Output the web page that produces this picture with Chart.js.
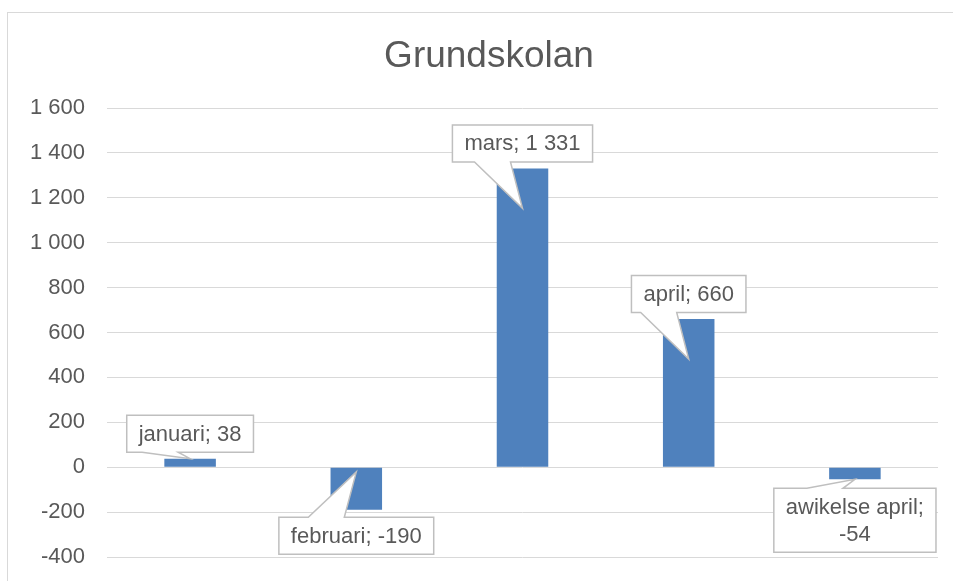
<!DOCTYPE html>
<html>
<head>
<meta charset="utf-8">
<script src="https://cdn.jsdelivr.net/npm/chart.js@4.4.1/dist/chart.umd.min.js"></script>
<style>
  html, body { margin: 0; padding: 0; background: #fff; overflow: hidden; }
  #wrap { position: relative; width: 953px; height: 581px; overflow: hidden; }
  #frame { position: absolute; left: 7px; top: 12px; width: 1000px; height: 700px; border: 1px solid #d9d9d9; box-sizing: border-box; }
  canvas { position: absolute; left: 0; top: 0; }
</style>
</head>
<body>
<div id="wrap">
  <div id="frame"></div>
  <canvas id="chart" width="953" height="581"></canvas>
</div>
<script>
const categories = ['januari', 'februari', 'mars', 'april', 'awikelse april'];
const values = [38, -190, 1331, 660, -54];
const yMin = -400;
const yMax = 1600;
const yStep = 200;
const chartTitle = 'Grundskolan';

// callout placement relative to the end of each bar (style only)
const calloutLayout = [
  { dy: -25, tipDy: 0, wrap: false },
  { dy: 26, tipDy: -38, wrap: false },
  { dy: -25, tipDy: 40, wrap: false },
  { dy: -25, tipDy: 40, wrap: false },
  { dy: 41, tipDy: 0, wrap: true }
];

const textColor = '#595959';
const barColor = '#4f81bd';
const fontFamily = '"Liberation Sans", Arial, sans-serif';

function fmt(v) {
  const s = String(Math.abs(v)).replace(/\B(?=(\d{3})+(?!\d))/g, ' ');
  return (v < 0 ? '-' : '') + s;
}

// title drawn by hand so it can sit centred on the frame, not the canvas
const titlePlugin = {
  id: 'frameTitle',
  afterDraw(chart) {
    const ctx = chart.ctx;
    ctx.save();
    ctx.font = '37px ' + fontFamily;
    ctx.fillStyle = textColor;
    ctx.textAlign = 'center';
    ctx.textBaseline = 'alphabetic';
    ctx.fillText(chartTitle, 489, 67);
    ctx.restore();
  }
};

const calloutPlugin = {
  id: 'callouts',
  afterDatasetsDraw(chart) {
    const ctx = chart.ctx;
    const meta = chart.getDatasetMeta(0);
    ctx.save();
    ctx.font = '22px ' + fontFamily;
    meta.data.forEach((bar, i) => {
      const lay = calloutLayout[i];
      const lines = lay.wrap
        ? [categories[i] + ';', fmt(values[i])]
        : [categories[i] + '; ' + fmt(values[i])];
      const tw = Math.max(...lines.map(l => ctx.measureText(l).width));
      const w = tw + 24;
      const h = lines.length === 1 ? 37 : 64;
      const cx = bar.x;
      const cy = bar.y + lay.dy;
      const left = cx - w / 2, right = cx + w / 2;
      const top = cy - h / 2, bottom = cy + h / 2;
      const tipX = bar.x;
      const tipY = bar.y + lay.tipDy;
      const b1 = cx - 48, b2 = cx - 12;

      ctx.beginPath();
      if (tipY > cy) {
        ctx.moveTo(left, top);
        ctx.lineTo(right, top);
        ctx.lineTo(right, bottom);
        ctx.lineTo(b2, bottom);
        ctx.lineTo(tipX, tipY);
        ctx.lineTo(b1, bottom);
        ctx.lineTo(left, bottom);
      } else {
        ctx.moveTo(left, top);
        ctx.lineTo(b1, top);
        ctx.lineTo(tipX, tipY);
        ctx.lineTo(b2, top);
        ctx.lineTo(right, top);
        ctx.lineTo(right, bottom);
        ctx.lineTo(left, bottom);
      }
      ctx.closePath();
      ctx.fillStyle = '#ffffff';
      ctx.fill();
      ctx.strokeStyle = '#bfbfbf';
      ctx.lineWidth = 1.5;
      ctx.stroke();

      ctx.fillStyle = textColor;
      ctx.textAlign = 'center';
      ctx.textBaseline = 'middle';
      const lh = 27;
      lines.forEach((l, k) => {
        ctx.fillText(l, cx, cy + (k - (lines.length - 1) / 2) * lh + 1);
      });
    });
    ctx.restore();
  }
};

new Chart(document.getElementById('chart'), {
  type: 'bar',
  data: {
    labels: categories,
    datasets: [{
      data: values,
      backgroundColor: barColor,
      borderWidth: 0,
      barPercentage: 0.31,
      categoryPercentage: 1
    }]
  },
  options: {
    responsive: false,
    animation: false,
    layout: { padding: { left: 0, right: 15, top: 108, bottom: 24 } },
    plugins: {
      legend: { display: false },
      tooltip: { enabled: false },
      title: { display: false }
    },
    scales: {
      x: { display: false },
      y: {
        min: yMin,
        max: yMax,
        afterFit(scale) {
          scale.width = 107;
          scale.paddingTop = 0;
          scale.paddingBottom = 0;
        },
        border: { display: false },
        grid: { color: '#d9d9d9', lineWidth: 1, drawTicks: false },
        ticks: {
          stepSize: yStep,
          padding: 22,
          color: textColor,
          font: { family: fontFamily, size: 22 },
          callback: v => fmt(v)
        }
      }
    }
  },
  plugins: [calloutPlugin, titlePlugin]
});
</script>
</body>
</html>
